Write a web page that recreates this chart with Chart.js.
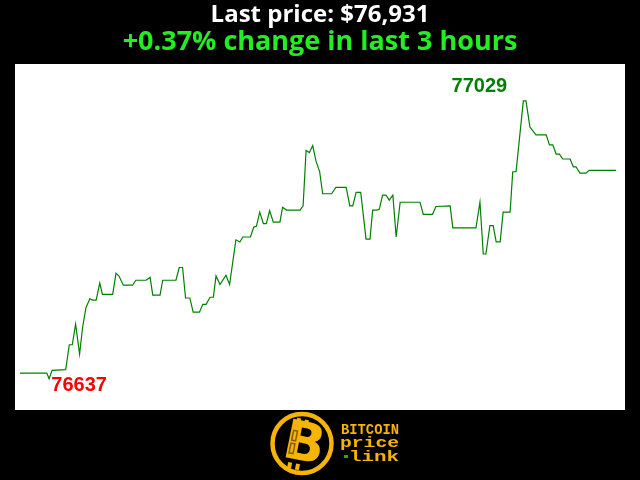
<!DOCTYPE html>
<html>
<head>
<meta charset="utf-8">
<script src="https://cdn.jsdelivr.net/npm/chart.js@4"></script>
<style>
  html, body { margin: 0; padding: 0; background: #000; }
  canvas { display: block; }
</style>
</head>
<body>
<canvas id="graficoPreco" width="640" height="480"></canvas>
<script>
// minutes since start of the 3 hour window, and BTC price at that minute
const minutes = [0, 8.1, 8.8, 9.7, 13.8, 14.9, 15.8, 16.8, 18.0, 18.9, 19.9, 21.1, 22.0, 23.0, 24.1, 24.9,
  28.0, 29.0, 29.9, 31.2, 34.0, 35.0, 38.1, 39.3, 40.1, 42.3, 43.1, 47.1, 48.1, 49.1, 50.0, 51.3,
  52.3, 54.2, 55.2, 56.2, 57.4, 58.4, 59.2, 60.4, 62.2, 63.3, 65.2, 66.4, 67.3, 69.6, 70.6, 71.4,
  72.4, 73.5, 74.4, 75.4, 76.5, 78.5, 79.3, 80.5, 82.4, 84.6, 85.5, 86.4, 87.4, 88.4, 89.4, 90.5,
  91.4, 94.1, 95.4, 98.5, 99.6, 100.5, 101.5, 102.9, 104.5, 105.7, 106.5, 107.7, 108.5, 109.5, 110.5,
  111.5, 112.6, 113.6, 114.8, 120.8, 121.8, 124.6, 125.6, 129.9, 130.7, 137.7, 138.9, 139.9, 140.7,
  141.9, 142.9, 143.8, 145.0, 145.9, 148.0, 148.8, 149.8, 152.0, 152.8, 154.0, 155.8, 158.9, 159.9,
  160.9, 161.9, 162.9, 163.9, 166.1, 167.1, 167.9, 169.1, 170.9, 171.9, 180.0];
const prices = [76645, 76645, 76637, 76649, 76650, 76685, 76685, 76714, 76672, 76709, 76737, 76750, 76748, 76748, 76772, 76756,
  76756, 76786, 76782, 76769, 76769, 76776, 76776, 76780, 76755, 76755, 76776, 76776, 76794, 76794, 76751, 76751,
  76731, 76731, 76742, 76742, 76752, 76752, 76782, 76770, 76783, 76770, 76833, 76830, 76837, 76837, 76851, 76852,
  76872, 76856, 76856, 76874, 76858, 76858, 76879, 76875, 76875, 76875, 76881, 76959, 76956, 76966, 76944, 76929,
  76898, 76898, 76907, 76907, 76881, 76881, 76900, 76900, 76834, 76834, 76875, 76875, 76876, 76896, 76896,
  76889, 76896, 76837, 76886, 76886, 76869, 76869, 76880, 76881, 76850, 76850, 76886, 76813, 76813,
  76853, 76853, 76830, 76830, 76872, 76872, 76929, 76929, 77029, 77029, 76992, 76981, 76981, 76967,
  76967, 76954, 76954, 76947, 76947, 76936, 76936, 76927, 76927, 76931, 76931];

const lastPrice = 76931;
const changePct = 0.37;
const horas = 3;

const corLinha = '#008000';
const corOuro = '#f5b406';
const fonteTitulo = '"Open Sans", sans-serif';

const pontos = minutes.map((m, i) => ({ x: m, y: prices[i] }));
const iMax = prices.indexOf(Math.max(...prices));
const iMin = prices.indexOf(Math.min(...prices));

const fundo = {
  id: 'fundo',
  beforeDraw(chart) {
    const { ctx, chartArea: a } = chart;
    ctx.save();
    ctx.fillStyle = '#000';
    ctx.fillRect(0, 0, chart.width, chart.height);
    ctx.fillStyle = '#fff';
    ctx.fillRect(a.left, a.top, a.right - a.left, a.bottom - a.top);
    ctx.restore();
  }
};

const extremos = {
  id: 'extremos',
  afterDatasetsDraw(chart) {
    const { ctx, scales } = chart;
    ctx.save();
    ctx.font = 'bold 20px "Liberation Sans", Arial, sans-serif';
    ctx.textAlign = 'center';
    ctx.textBaseline = 'alphabetic';
    // max label sits above and to the left of the peak
    let px = scales.x.getPixelForValue(minutes[iMax]);
    let py = scales.y.getPixelForValue(prices[iMax]);
    ctx.fillStyle = corLinha;
    ctx.fillText(String(prices[iMax]), px - 44, py - 9);
    // min label below and right of the low
    px = scales.x.getPixelForValue(minutes[iMin]);
    py = scales.y.getPixelForValue(prices[iMin]);
    ctx.fillStyle = '#ff0000';
    ctx.fillText(String(prices[iMin]), px + 30, py + 12);
    ctx.restore();
  }
};

// stretch a word horizontally so it fills [x0, x1]
function textoEsticado(ctx, texto, x0, x1, y) {
  const w = ctx.measureText(texto).width;
  ctx.save();
  ctx.translate(x0, y);
  ctx.scale((x1 - x0) / w, 1);
  ctx.fillText(texto, 0, 0);
  ctx.restore();
}

const logo = {
  id: 'logo',
  afterDraw(chart) {
    const ctx = chart.ctx;
    const cx = 302, cy = 443.5;
    ctx.save();
    ctx.strokeStyle = corOuro;
    ctx.lineWidth = 4.5;
    ctx.beginPath();
    ctx.arc(cx, cy, 29.5, 0, Math.PI * 2);
    ctx.stroke();

    // the bitcoin B, leaning right
    ctx.translate(cx + 1, cy + 1);
    ctx.rotate(0.2);
    ctx.fillStyle = corOuro;
    ctx.font = 'bold 54px "DejaVu Sans", sans-serif';
    ctx.textAlign = 'center';
    ctx.textBaseline = 'middle';
    ctx.fillText('B', 1, 2);
    ctx.fillRect(-11, -25, 4, 6);
    ctx.fillRect(-3, -25, 4, 6);
    ctx.fillRect(-11, 20, 4, 6);
    ctx.fillRect(-3, 20, 4, 6);
    // chain link in the stem
    ctx.strokeStyle = '#8a5a00';
    ctx.lineWidth = 1.5;
    ctx.strokeRect(-12, -12, 4, 10);
    ctx.strokeRect(-12, 1, 4, 10);
    ctx.restore();

    ctx.save();
    ctx.fillStyle = corOuro;
    ctx.font = 'bold 14px "Liberation Mono", "DejaVu Sans Mono", monospace';
    ctx.textAlign = 'left';
    ctx.textBaseline = 'alphabetic';
    textoEsticado(ctx, 'BITCOIN', 341, 399, 434);
    textoEsticado(ctx, 'price', 340, 399, 447);
    textoEsticado(ctx, 'link', 349, 399, 461);
    ctx.fillStyle = '#22aa22';
    ctx.fillRect(344, 455, 4, 3);
    ctx.restore();
  }
};

const ctx = document.getElementById('graficoPreco').getContext('2d');
new Chart(ctx, {
  type: 'line',
  data: {
    datasets: [{
      data: pontos,
      borderColor: corLinha,
      borderWidth: 1.2,
      pointRadius: 0,
      tension: 0,
      fill: false
    }]
  },
  options: {
    responsive: false,
    animation: false,
    devicePixelRatio: 1,
    layout: { padding: { left: 15, right: 15, top: 0, bottom: 70 } },
    scales: {
      x: { type: 'linear', min: -1.5, max: 182.7, display: false },
      y: { min: 76593, max: 77081, display: false }
    },
    plugins: {
      legend: { display: false },
      tooltip: { enabled: false },
      title: {
        display: true,
        text: 'Last price: $' + lastPrice.toLocaleString('en-US'),
        color: '#ffffff',
        font: { family: fonteTitulo, size: 24, weight: 'bold', lineHeight: 1.3 },
        padding: { top: 0, bottom: 0 }
      },
      subtitle: {
        display: true,
        text: '+' + changePct.toFixed(2) + '% change in last ' + horas + ' hours',
        color: '#22ee22',
        font: { family: fonteTitulo, size: 27, weight: 'bold', lineHeight: 0.85 },
        padding: { top: 0, bottom: 9.85 }
      }
    }
  },
  plugins: [fundo, extremos, logo]
});
</script>
</body>
</html>
